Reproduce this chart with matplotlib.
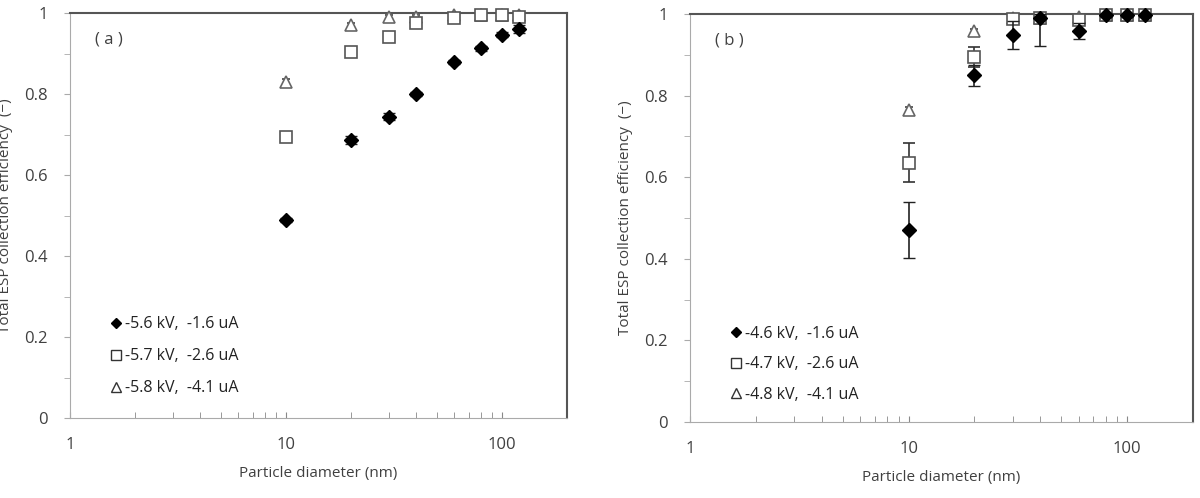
import matplotlib
matplotlib.use('Agg')
import matplotlib.pyplot as plt
from matplotlib.lines import Line2D
from matplotlib.ticker import FixedLocator, NullFormatter

plt.rcParams['font.family'] = ['Open Sans', 'DejaVu Sans']

diam = [10, 20, 30, 40, 60, 80, 100, 120]

# panel (a)
a_labels = ['-5.6 kV,  -1.6 uA', '-5.7 kV,  -2.6 uA', '-5.8 kV,  -4.1 uA']
a_d = [0.49, 0.686, 0.744, 0.80, 0.878, 0.913, 0.946, 0.96]
a_d_err = [0.005, 0.01, 0.008, 0.006, 0.005, 0.006, 0.006, 0.01]
a_s = [0.695, 0.904, 0.941, 0.976, 0.987, 0.995, 0.995, 0.99]
a_s_err = [0.012, 0.01, 0.01, 0.01, 0.008, 0.006, 0.006, 0.008]
a_t = [0.83, 0.97, 0.99, 0.99, 0.995, 0.995, 0.995, 0.995]
a_t_err = [0.008, 0.006, 0.005, 0.005, 0.004, 0.004, 0.004, 0.004]

# panel (b)
b_labels = ['-4.6 kV,  -1.6 uA', '-4.7 kV,  -2.6 uA', '-4.8 kV,  -4.1 uA']
b_d = [0.47, 0.85, 0.949, 0.99, 0.958, 0.997, 0.997, 0.997]
b_d_err_lo = [0.069, 0.026, 0.035, 0.068, 0.02, 0.005, 0.005, 0.005]
b_d_err_hi = [0.069, 0.026, 0.035, 0.01, 0.02, 0.003, 0.003, 0.003]
b_s = [0.636, 0.895, 0.987, 0.99, 0.985, 0.997, 0.997, 0.997]
b_s_err = [0.048, 0.025, 0.008, 0.01, 0.01, 0.003, 0.003, 0.003]
b_t = [0.765, 0.958, 0.99, 0.99, 0.993, 0.997, 0.997, 0.997]
b_t_err = [0.006, 0.006, 0.005, 0.005, 0.005, 0.003, 0.003, 0.003]

fig = plt.figure(figsize=(12, 4.98), dpi=100)
ax1 = fig.add_axes([0.0583, 0.1606, 0.4142, 0.8133])
ax2 = fig.add_axes([0.575, 0.1526, 0.4192, 0.8193])

def draw(ax, d, de, s, se, t, te, labels, tag, leg_y, leg_sp):
    styles = [
        dict(fmt='D', ms=7, mfc='black', mec='black', mew=1, ecolor='#222222', elinewidth=1.2, capsize=4, zorder=5),
        dict(fmt='s', ms=9, mfc='white', mec='#555555', mew=1.2, ecolor='#333333', elinewidth=1.2, capsize=4, zorder=4),
        dict(fmt='^', ms=9, mfc='white', mec='#666666', mew=1.2, ecolor='#444444', elinewidth=1.0, capsize=3, zorder=3),
    ]
    for vals, errs, st in zip([d, s, t], [de, se, te], styles):
        cont = ax.errorbar(diam, vals, yerr=errs, **st)
        for art in cont.get_children():
            art.set_clip_on(False)
    ax.set_xscale('log')
    ax.set_xlim(1, 200)
    ax.set_ylim(0, 1)
    ax.set_yticks([0, 0.2, 0.4, 0.6, 0.8, 1])
    ax.set_yticklabels(['0', '0.2', '0.4', '0.6', '0.8', '1'])
    ax.yaxis.set_minor_locator(FixedLocator([0.1, 0.3, 0.5, 0.7, 0.9]))
    ax.set_xticks([1, 10, 100])
    ax.set_xticklabels(['1', '10', '100'])
    ax.xaxis.set_minor_formatter(NullFormatter())
    ax.tick_params(axis='x', which='both', direction='in', length=4, color='#888888',
                   pad=14, labelsize=12, labelcolor='#404040')
    ax.tick_params(axis='y', which='both', direction='out', length=4, color='#aaaaaa',
                   pad=12, labelsize=12, labelcolor='#404040')
    for sp in ['left', 'bottom']:
        ax.spines[sp].set_color('#aaaaaa')
    for sp in ['top', 'right']:
        ax.spines[sp].set_color('#555555')
        ax.spines[sp].set_linewidth(1.5)
    ax.set_xlabel('Particle diameter (nm)', fontsize=11, color='#404040', labelpad=9)
    ax.set_ylabel('Total ESP collection efficiency  (\u2212)', fontsize=11, color='#404040', labelpad=8)
    ax.text(0.05, 0.925, tag, transform=ax.transAxes, fontsize=12, color='#404040')
    handles = [
        Line2D([], [], ls='none', marker='D', ms=5, mfc='black', mec='black'),
        Line2D([], [], ls='none', marker='s', ms=7, mfc='white', mec='#333333', mew=1),
        Line2D([], [], ls='none', marker='^', ms=7, mfc='white', mec='#333333', mew=1),
    ]
    ax.legend(handles, labels, loc='lower left', bbox_to_anchor=(0.05, leg_y),
              frameon=False, fontsize=11.5, handlelength=0.8,
              handletextpad=0.2, labelspacing=leg_sp, labelcolor='#222222')

draw(ax1, a_d, a_d_err, a_s, a_s_err, a_t, a_t_err, a_labels, '( a )', 0.018, 1.0)
draw(ax2, b_d, [b_d_err_lo, b_d_err_hi], b_s, b_s_err, b_t, b_t_err, b_labels, '( b )', 0.012, 0.9)

fig.savefig('out.png', dpi=100)
